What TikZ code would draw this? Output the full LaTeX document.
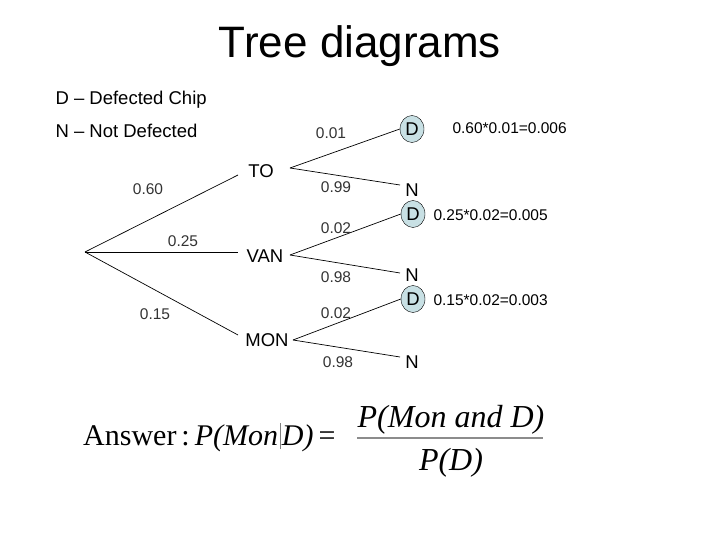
\documentclass[tikz,border=0pt]{standalone}
\usepackage{fontspec}
\setmainfont{Liberation Sans}
\newfontfamily\serifit{Liberation Serif}
\usetikzlibrary{shapes.geometric}
\definecolor{dfill}{RGB}{200,224,228}
\begin{document}
\begin{tikzpicture}[x=1pt,y=-1pt,
  lab/.style={font=\fontsize{15.5}{17}\selectfont, text=black!80},
  cat/.style={font=\fontsize{18.5}{20}\selectfont},
  dnode/.style={ellipse, draw, fill=dfill, minimum width=24pt, minimum height=27pt, inner sep=0pt, font=\fontsize{18.5}{20}\selectfont},
  nnode/.style={font=\fontsize{18.5}{20}\selectfont},
  res/.style={font=\fontsize{15.5}{17}\selectfont, anchor=west},
  br/.style={line width=0.7pt}]
\useasboundingbox (0,0) rectangle (720,540);
\node[font=\fontsize{44}{48}\selectfont] (title) at (360,46) {Tree diagrams};
\node[cat, anchor=west] (l1) at (52,100) {D -- Defected Chip};
\node[cat, anchor=west] (l2) at (52,131) {N -- Not Defected};
% tree
\coordinate (root) at (85,252);
\node[cat] (to) at (261,171) {TO};
\node[cat] (van) at (265,256) {VAN};
\node[cat] (mon) at (267,340) {MON};
\coordinate (toL) at (238,175);
\coordinate (vanL) at (238,252);
\coordinate (monL) at (238,335);
\coordinate (toR) at (290,168);
\coordinate (vanR) at (290,255);
\coordinate (monR) at (293,340);
\draw[br] (root) -- (toL);
\draw[br] (root) -- (vanL);
\draw[br] (root) -- (monL);
\node[dnode] (d1) at (412,129) {D};
\node[nnode] (n1) at (412,190) {N};
\node[dnode] (d2) at (413,214) {D};
\node[nnode] (n2) at (412,275) {N};
\node[dnode] (d3) at (413,299) {D};
\node[nnode] (n3) at (412,362) {N};
\draw[br] (toR) -- (d1.west);
\draw[br] (toR) -- (400,185);
\draw[br] (vanR) -- (d2.west);
\draw[br] (vanR) -- (400,273);
\draw[br] (monR) -- (d3.west);
\draw[br] (monR) -- (400,357);
\node[lab] at (148,189) {0.60};
\node[lab] at (183,241) {0.25};
\node[lab] at (155,314) {0.15};
\node[lab] at (331,133) {0.01};
\node[lab] at (336,187) {0.99};
\node[lab] at (336,228) {0.02};
\node[lab] at (336,277) {0.98};
\node[lab] at (336,313) {0.02};
\node[lab] at (338,362) {0.98};
\node[res] (r1) at (449,128) {0.60*0.01=0.006};
\node[res] (r2) at (430,215) {0.25*0.02=0.005};
\node[res] (r3) at (430,300) {0.15*0.02=0.003};
% formula
\node[anchor=base west, font=\serifit\fontsize{30}{32}\selectfont, inner sep=0pt] (ans) at (83,445) {Answer\,:\,\textit{P(Mon}\kern2pt{\color{black!50}\rule[-4pt]{0.8pt}{26pt}}\kern1pt\textit{D)}\,=};
\node[anchor=base, font=\serifit\fontsize{32}{34}\selectfont\itshape, inner sep=0pt] (num) at (451,427) {P(Mon and D)};
\node[anchor=base, font=\serifit\fontsize{32}{34}\selectfont\itshape, inner sep=0pt] (den) at (451,470) {P(D)};
\draw[line width=1.2pt, black!45] (357,438) -- (543,438);
\end{tikzpicture}
\end{document}
